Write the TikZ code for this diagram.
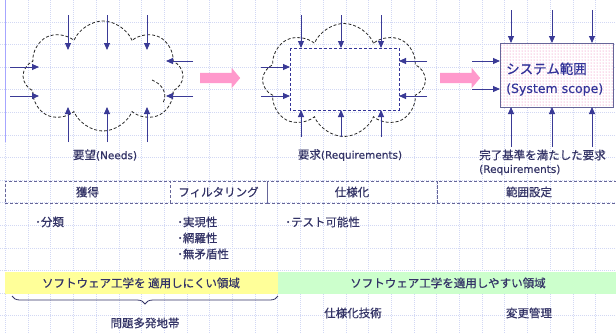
\documentclass[tikz,border=0pt]{standalone}
\usepackage{fontspec}
\setmainfont{Noto Sans CJK JP}[FakeBold=0.6]
\newfontfamily\latinf{DejaVu Sans}[FakeBold=0.3]
\usetikzlibrary{shapes.symbols,shapes.arrows,arrows.meta,patterns,decorations.pathreplacing}
\definecolor{navy}{HTML}{333366}
\definecolor{arrowc}{HTML}{3A3A96}
\definecolor{gridc}{HTML}{D2D8F4}
\definecolor{pinkc}{HTML}{FF99CC}
\definecolor{dotc}{HTML}{F070B0}
\definecolor{yel}{HTML}{FFFF99}
\definecolor{grn}{HTML}{CCFFCC}
\definecolor{dashc}{HTML}{666699}
\definecolor{boxtext}{HTML}{333399}
\tikzset{
  gridline/.style={draw=gridc, line width=0.9pt, dash pattern=on 1pt off 1pt},
  lbl/.style={text=navy, font=\fontsize{11.5}{13}\selectfont, inner sep=0pt},
  arr/.style={draw=arrowc, line width=0.9pt, -{Triangle[length=7pt,width=6pt]}},
  cloudst/.style={cloud, cloud puffs=8, cloud puff arc=135, cloud ignores aspect,
    draw=black!85, dash pattern=on 3pt off 2pt, line width=0.8pt, inner sep=0pt},
  cloudbit/.style={draw=black!85, dash pattern=on 3pt off 2pt, line width=0.8pt},
  pinkarrow/.style={single arrow, fill=pinkc, draw=none, inner sep=5pt,
    single arrow head extend=5pt, single arrow tip angle=100, minimum height=40pt},
  phase/.style={draw=dashc, dash pattern=on 3pt off 2pt, line width=0.9pt,
    minimum height=22pt, inner sep=0pt, text=navy, font=\fontsize{11.5}{13}\selectfont},
  band/.style={draw=none, minimum height=22pt, inner sep=0pt},
}
\begin{document}
\begin{tikzpicture}[x=1pt,y=-1pt]
\useasboundingbox (0,0) rectangle (616,333);
\fill[white] (0,0) rectangle (616,333);
% grid
\foreach \i in {0,...,27} \draw[gridline] ({5.5+22.7*\i},0) -- ({5.5+22.7*\i},333);
\foreach \j in {1,...,14} \draw[gridline] (0,{-0.5+22.6*\j}) -- (616,{-0.5+22.6*\j});
\draw[draw=blue!35, line width=1.3pt] (5.5,0) -- (5.5,142);

% cloud 1 (needs)
\node[cloudst, minimum width=160pt, minimum height=110pt] (need) at (103,76) {};
\draw[cloudbit] (152,80) .. controls (162,84) and (168,93) .. (163,103);
\foreach \x [count=\i] in {68,107,147}{
  \coordinate (nta\i) at (\x,15); \coordinate (ntb\i) at (\x,50);
  \draw[arr] (nta\i) -- (ntb\i);
  \coordinate (nba\i) at (\x,142); \coordinate (nbb\i) at (\x,107);
  \draw[arr] (nba\i) -- (nbb\i);
}
\foreach \y [count=\i] in {67,96}{
  \coordinate (nla\i) at (10,\y); \coordinate (nlb\i) at (39,\y);
  \draw[arr] (nla\i) -- (nlb\i);
}
\foreach \y [count=\i] in {61,96}{
  \coordinate (nra\i) at (193,\y); \coordinate (nrb\i) at (166,\y);
  \draw[arr] (nra\i) -- (nrb\i);
}
\node[lbl] (needlbl) at (105,155) {要望{\latinf\fontsize{10.5}{13}\selectfont(Needs)}};

% pink arrow 1
\node[pinkarrow] (pa1) at (218,78) {};

% cloud 2 (requirements)
\node[cloudst, minimum width=163pt, minimum height=113pt] (reqc) at (344,80) {};
\draw[draw=boxtext, dash pattern=on 3pt off 2pt, line width=0.9pt] (290,48) rectangle (399,110);
\foreach \x [count=\i] in {301,341,381}{
  \coordinate (rta\i) at (\x,15); \coordinate (rtb\i) at (\x,48);
  \draw[arr] (rta\i) -- (rtb\i);
  \coordinate (rba\i) at (\x,137); \coordinate (rbb\i) at (\x,110);
  \draw[arr] (rba\i) -- (rbb\i);
}
\foreach \y [count=\i] in {67,96}{
  \coordinate (rla\i) at (261,\y); \coordinate (rlb\i) at (290,\y);
  \draw[arr] (rla\i) -- (rlb\i);
}
\foreach \y [count=\i] in {61,96}{
  \coordinate (rra\i) at (427,\y); \coordinate (rrb\i) at (399,\y);
  \draw[arr] (rra\i) -- (rrb\i);
}
\node[lbl] (reqlbl) at (350,155) {要求{\latinf\fontsize{10.5}{13}\selectfont(Requirements)}};

% pink arrow 2
\node[pinkarrow] (pa2) at (458,78) {};

% system scope box
\node[draw=dashc, line width=0.9pt, preaction={fill=white}, pattern=dots, pattern color=dotc,
  minimum width=113pt, minimum height=64pt, anchor=north west, inner sep=0pt] (scope) at (500,43) {};
\node[anchor=west, align=left, text=boxtext, font=\fontsize{13.5}{19}\selectfont, inner sep=0pt]
  (scopetxt) at (506,79) {システム範囲\\{\latinf\fontsize{12.5}{19}\selectfont(System scope)}};
\foreach \x [count=\i] in {511,552,592}{
  \coordinate (sta\i) at (\x,10); \coordinate (stb\i) at (\x,43);
  \draw[arr] (sta\i) -- (stb\i);
  \coordinate (sba\i) at (\x,147); \coordinate (sbb\i) at (\x,107);
  \draw[arr] (sba\i) -- (sbb\i);
}
\foreach \y [count=\i] in {61,89}{
  \coordinate (sla\i) at (472,\y); \coordinate (slb\i) at (500,\y);
  \draw[arr] (sla\i) -- (slb\i);
}
\node[lbl, anchor=west] (donelbl) at (479,155) {完了基準を満たした要求};
\node[lbl, anchor=west] (donelbl2) at (479,170) {{\latinf\fontsize{10.5}{13}\selectfont(Requirements)}};

% phase row
\node[phase, minimum width=165pt] (ph1) at (87.5,192) {獲得};
\node[phase, minimum width=97pt] (ph2) at (218.5,192) {フィルタリング};
\node[phase, minimum width=170pt] (ph3) at (352,192) {仕様化};
\node[phase, minimum width=184pt] (ph4) at (529,192) {範囲設定};

% bullets
\node[lbl, anchor=west] (b1) at (35,222) {･分類};
\node[lbl, anchor=west, align=left, font=\fontsize{11.5}{16}\selectfont] (b2) at (177,238) {･実現性\\･網羅性\\･無矛盾性};
\node[lbl, anchor=west] (b3) at (285,222) {･テスト可能性};

% bands
\node[band, fill=yel, minimum width=273pt, anchor=north west] (yband) at (5,272) {};
\node[band, fill=grn, minimum width=338pt, anchor=north west] (gband) at (278,272) {};
\node[lbl] (ytxt) at (141,283) {ソフトウェア工学を 適用しにくい領域};
\node[lbl] (gtxt) at (448,283) {ソフトウェア工学を適用しやすい領域};

% brace
\coordinate (brl) at (12,296);
\coordinate (brr) at (278,296);
\draw[draw=navy, line width=0.8pt, decorate, decoration={brace, mirror, amplitude=8pt}] (brl) -- (brr);
\node[lbl] (prob) at (145,323) {問題多発地帯};
\node[lbl] (spec) at (353,313) {仕様化技術};
\node[lbl] (chg) at (529,313) {変更管理};
\end{tikzpicture}
\end{document}
